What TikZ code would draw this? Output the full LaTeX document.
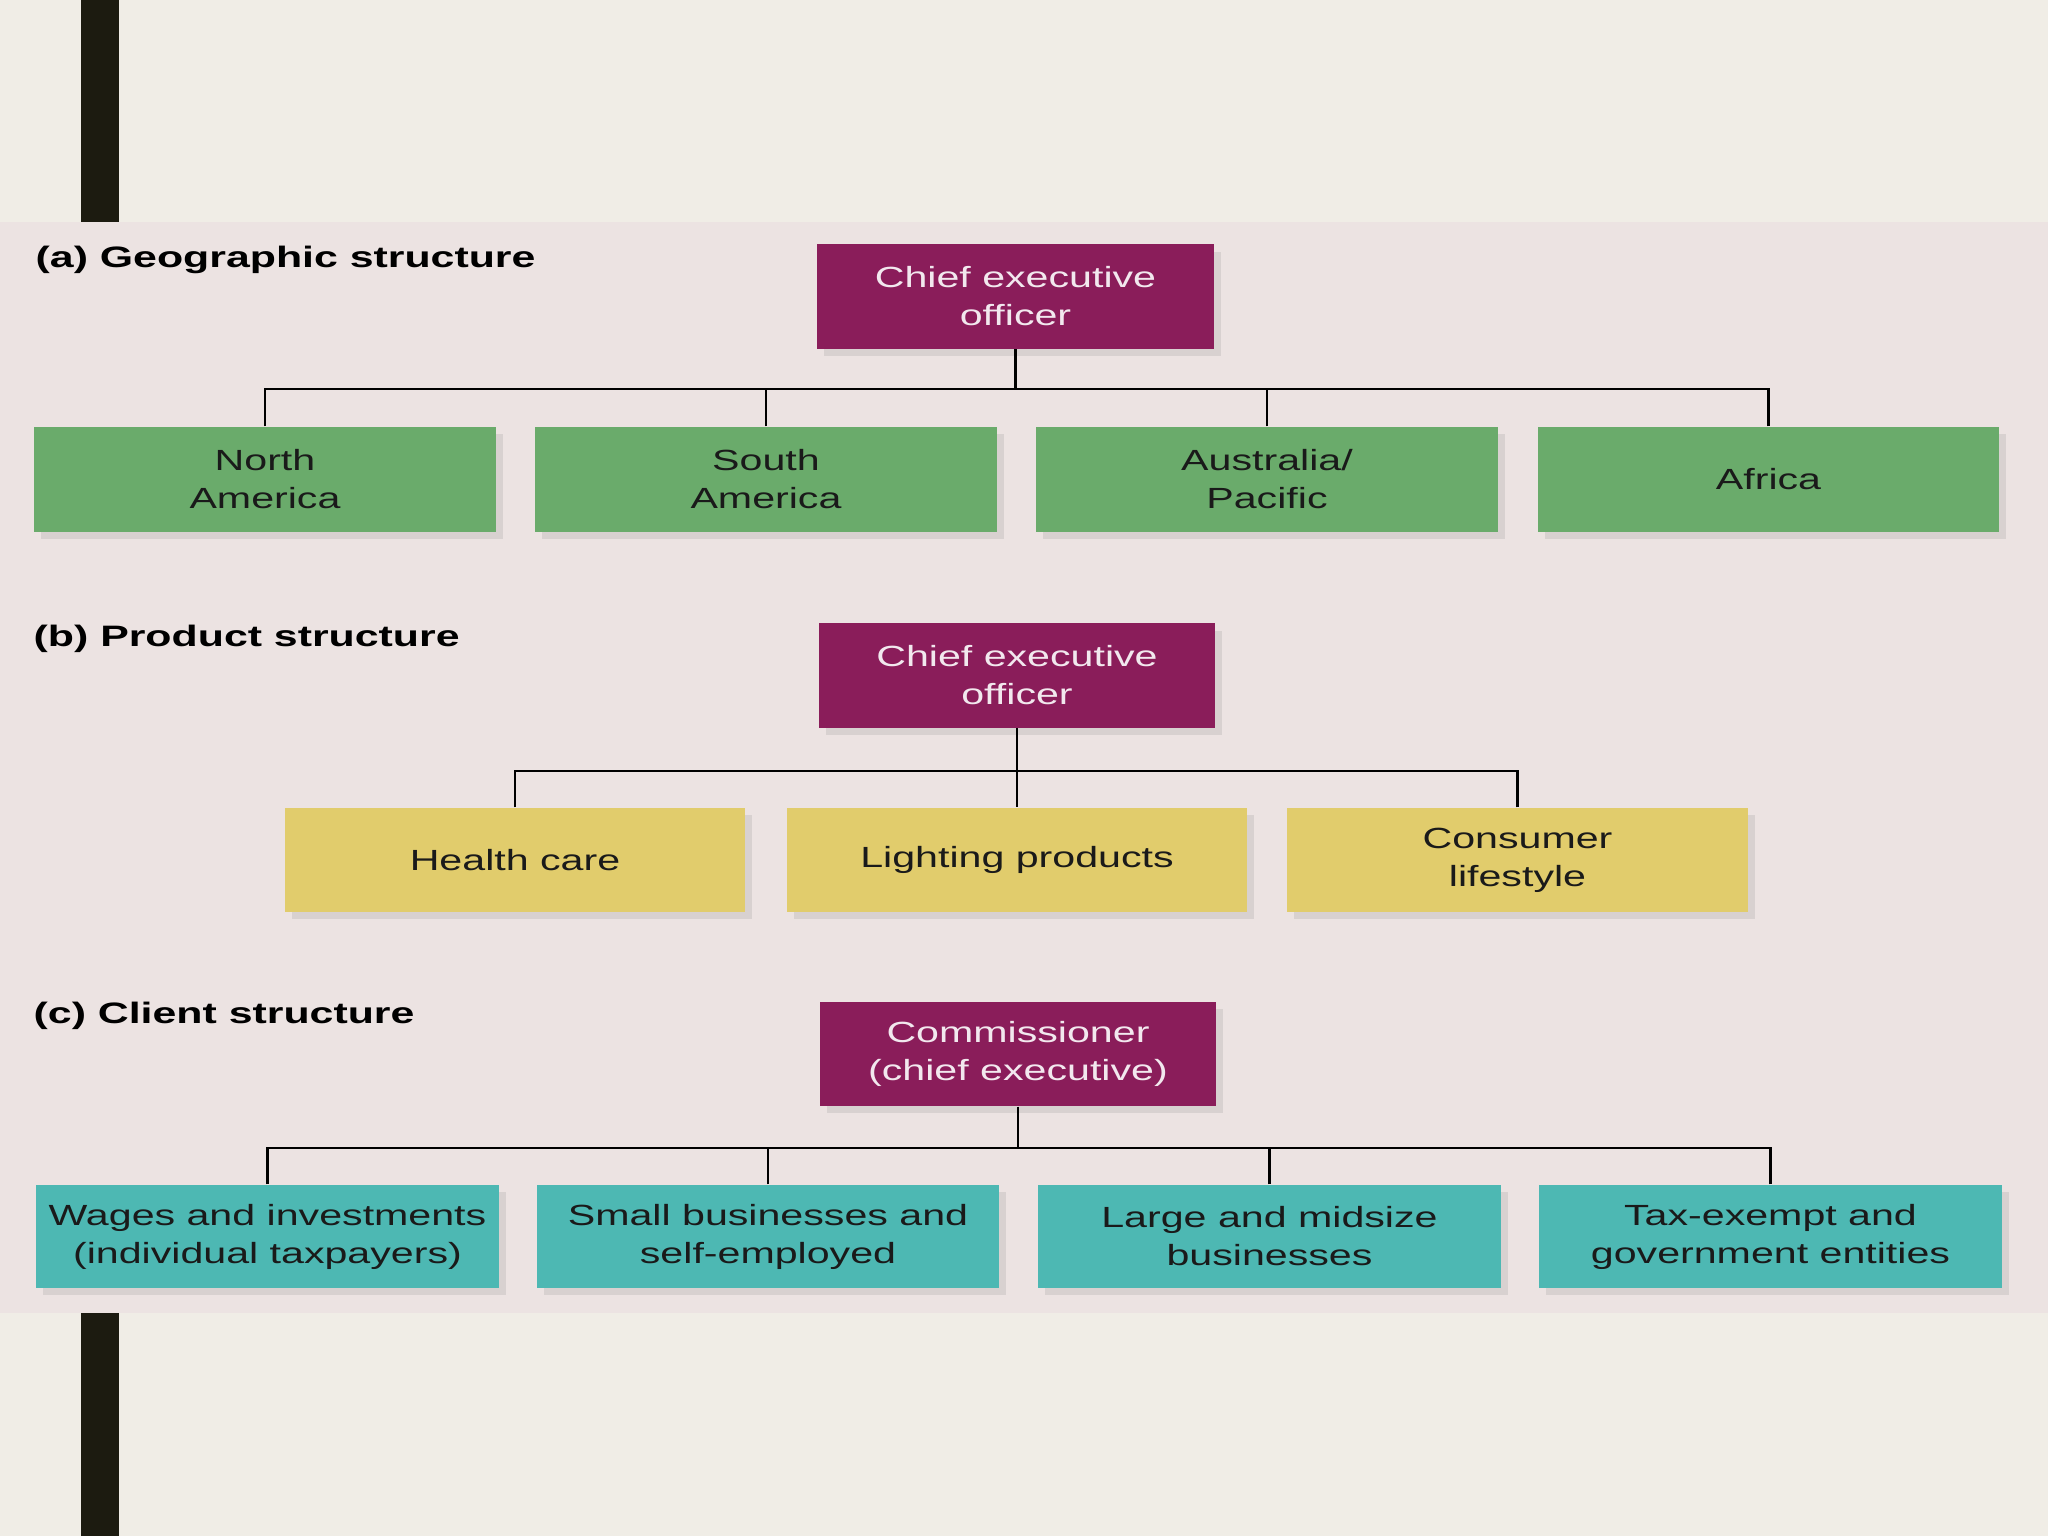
\documentclass[tikz,border=0pt]{standalone}
\usepackage{fontspec}
\setmainfont{Liberation Sans}
\newfontfamily\boxfont[FakeStretch=1.41]{Liberation Sans}
\newfontfamily\titlefont[FakeStretch=1.45]{Liberation Sans}
\usetikzlibrary{shadows}
\definecolor{pagebg}{HTML}{F0EDE6}
\definecolor{bandbg}{HTML}{ECE3E2}
\definecolor{barcol}{HTML}{1C1B10}
\definecolor{ceocol}{HTML}{8A1D5A}
\definecolor{geocol}{HTML}{6AAB6B}
\definecolor{prodcol}{HTML}{E1CC6C}
\definecolor{clientcol}{HTML}{4DB8B3}
\definecolor{inktext}{HTML}{1A1A1A}
\definecolor{ceotext}{HTML}{F2E8EE}
\tikzset{
  x=0.01cm, y=-0.01cm,
  basebox/.style={rectangle, inner sep=0pt, align=center,
    font=\boxfont\fontsize{8.3}{10.8}\selectfont,
    drop shadow={shadow xshift=2pt, shadow yshift=-2pt, opacity=0.18}},
  ceobox/.style={basebox, fill=ceocol, text=ceotext,
    minimum width=3.96cm, minimum height=1.04cm},
  geobox/.style={basebox, fill=geocol, text=inktext,
    minimum width=4.61cm, minimum height=1.05cm},
  prodbox/.style={basebox, fill=prodcol, text=inktext,
    minimum width=4.60cm, minimum height=1.04cm},
  clientbox/.style={basebox, fill=clientcol, text=inktext,
    minimum width=4.62cm, minimum height=1.03cm},
  paneltitle/.style={anchor=base west, inner sep=0pt, text=black,
    font=\titlefont\bfseries\fontsize{8.4}{10.8}\selectfont},
  link/.style={draw=black, line width=0.6pt}
}
\begin{document}
\begin{tikzpicture}
% background
\fill[pagebg] (0,0) rectangle (2048,1536);
\fill[bandbg] (0,222) rectangle (2048,1313);
\fill[barcol] (81,0) rectangle (119,222);
\fill[barcol] (81,1313) rectangle (119,1536);
\useasboundingbox (0,0) rectangle (2048,1536);

% (a) Geographic structure
\node[paneltitle] (ta) at (35,267) {(a) Geographic structure};
\node[ceobox] (ceoa) at (1015.5,296.5) {Chief executive\\officer};
\node[geobox] (na) at (265,479.5) {North\\America};
\node[geobox] (sa) at (766,479.5) {South\\America};
\node[geobox] (ap) at (1267,479.5) {Australia/\\Pacific};
\node[geobox] (af) at (1768.5,479.5) {Africa};
\coordinate (busa) at (1015.5,389);
\draw[link] (ceoa.south) -- (busa);
\draw[link] (na.north) |- (busa);
\draw[link] (sa.north) |- (busa);
\draw[link] (ap.north) |- (busa);
\draw[link] (af.north) |- (busa);

% (b) Product structure
\node[paneltitle] (tb) at (33,646) {(b) Product structure};
\node[ceobox] (ceob) at (1017,675.5) {Chief executive\\officer};
\node[prodbox] (hc) at (515,860) {Health care};
\node[prodbox] (lp) at (1017,860) {Lighting products};
\node[prodbox] (cl) at (1517.5,860) {Consumer\\lifestyle};
\coordinate (busb) at (1017,771);
\draw[link] (ceob.south) -- (lp.north);
\draw[link] (hc.north) |- (busb);
\draw[link] (cl.north) |- (busb);

% (c) Client structure
\node[paneltitle] (tc) at (33,1023) {(c) Client structure};
\node[ceobox] (comm) at (1018,1054) {Commissioner\\(chief executive)};
\node[clientbox] (wi) at (267.5,1236.5) {Wages and investments\\(individual taxpayers)};
\node[clientbox] (sb) at (768,1236.5) {Small businesses and\\self-employed};
\node[clientbox] (lm) at (1269.5,1236.5) {Large and midsize\\businesses};
\node[clientbox] (te) at (1770.5,1236.5) {Tax-exempt and\\government entities};
\coordinate (busc) at (1018,1148);
\draw[link] (comm.south) -- (busc);
\draw[link] (wi.north) |- (busc);
\draw[link] (sb.north) |- (busc);
\draw[link] (lm.north) |- (busc);
\draw[link] (te.north) |- (busc);
\end{tikzpicture}
\end{document}
